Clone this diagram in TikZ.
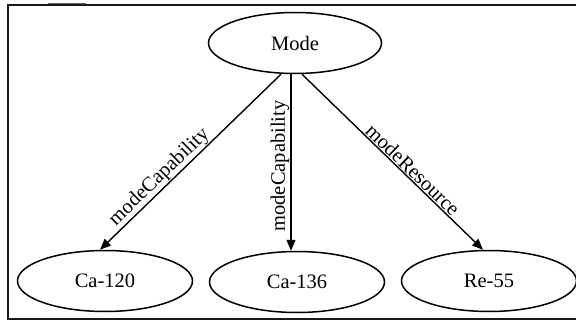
\documentclass[tikz,border=0pt]{standalone}
\usepackage{fontspec}
\setmainfont{Liberation Serif}
\usetikzlibrary{shapes.geometric,arrows.meta}
\begin{document}
\begin{tikzpicture}[x=1pt,y=-1pt,
  every node/.style={font=\fontsize{20.5}{23}\selectfont},
  oval/.style={draw,ellipse,line width=1.5pt,minimum width=175pt,minimum height=61pt,inner sep=0pt},
  edge/.style={line width=1.4pt,-{Triangle[length=11pt,width=9pt]}},
  lbl/.style={sloped,above,inner sep=0.8pt},
  frame/.style={line width=2pt,black!90}]
  \useasboundingbox (0,0) rectangle (576,321);
  % open frame and short tick along the top edge
  \coordinate (tl) at (8,5);
  \coordinate (bl) at (8,319);
  \coordinate (tr) at (576,5);
  \coordinate (br) at (576,319);
  \draw[frame] (tr) -- (tl) -- (bl) -- (br);
  \coordinate (t1) at (48,3.5);
  \coordinate (t2) at (86,3.5);
  \draw[line width=1pt,black!60] (t1) -- (t2);
  % nodes
  \node[oval,minimum width=173pt] (mode) at (295,43) {Mode};
  \node[oval] (ca120) at (105,281) {Ca-120};
  \node[oval] (ca136) at (297,282) {Ca-136};
  \node[oval] (re55) at (489,281) {Re-55};
  % connectors
  \draw[edge] ([xshift=-14pt]mode.south) -- node[lbl,pos=0.63] {modeCapability} ([xshift=-5pt]ca120.north);
  \draw[edge] ([xshift=-4pt]mode.south) -- node[rotate=90,anchor=south,inner sep=1pt,pos=0.52] {modeCapability} ([xshift=-4pt]mode.south |- ca136.north);
  \draw[edge] ([xshift=7pt]mode.south) -- node[lbl,pos=0.58] {modeResource} ([xshift=-6pt]re55.north);
\end{tikzpicture}
\end{document}
